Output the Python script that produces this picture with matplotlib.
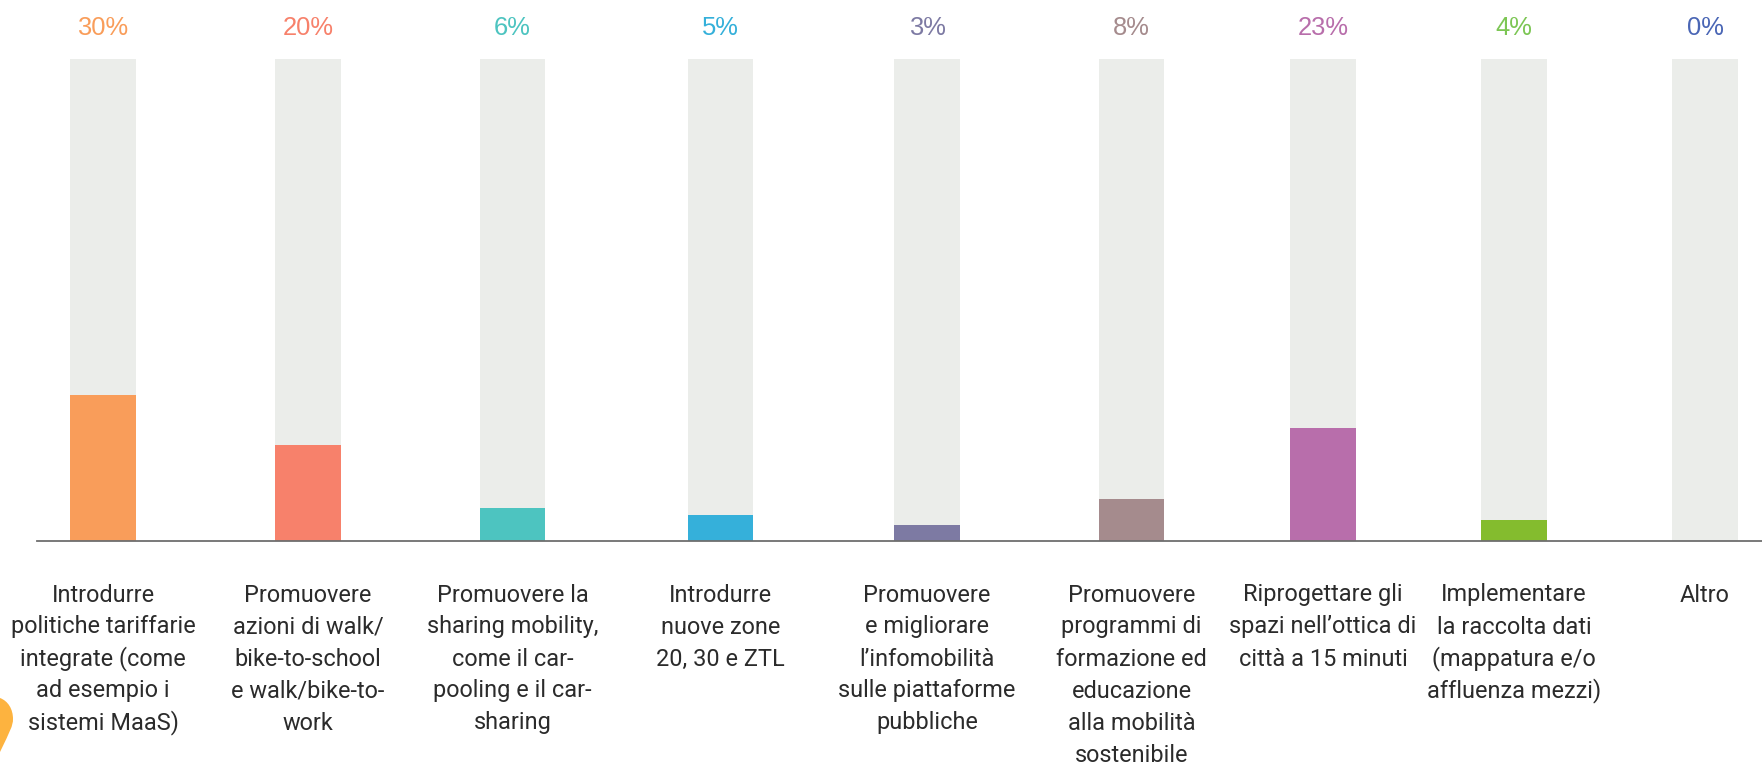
import matplotlib.pyplot as plt
from matplotlib.patches import PathPatch
from matplotlib.path import Path
from matplotlib.transforms import IdentityTransform

plt.rcParams["font.family"] = "Roboto"

labels = [
    "Introdurre\npolitiche tariffarie\nintegrate (come\nad esempio i\nsistemi MaaS)",
    "Promuovere\nazioni di walk/\nbike-to-school\ne walk/bike-to-\nwork",
    "Promuovere la\nsharing mobility,\ncome il car-\npooling e il car-\nsharing",
    "Introdurre\nnuove zone\n20, 30 e ZTL",
    "Promuovere\ne migliorare\nl’infomobilità\nsulle piattaforme\npubbliche",
    "Promuovere\nprogrammi di\nformazione ed\neducazione\nalla mobilità\nsostenibile",
    "Riprogettare gli\nspazi nell’ottica di\ncittà a 15 minuti",
    "Implementare\nla raccolta dati\n(mappatura e/o\naffluenza mezzi)",
    "Altro",
]
values = [30, 20, 6, 5, 3, 8, 23, 4, 0]
# drawn heights in the picture differ a little from the printed percentages
heights = [30.3, 19.9, 6.8, 5.2, 3.3, 8.6, 23.3, 4.2, 0]
centers = [103, 308, 512.5, 720.5, 927, 1131.5, 1323, 1514, 1705]
bar_colors = ["#F99D5A", "#F7816B", "#4DC4C0", "#35B0DA", "#7D7AA3", "#A58B8D", "#B86EAB", "#84BC2E", "#4A66B5"]
text_colors = ["#F99D5A", "#F7816B", "#4DC4C0", "#35B0DA", "#7D7AA3", "#A58B8D", "#B86EAB", "#7CC654", "#4A66B5"]

W, H = 1762, 763
fig = plt.figure(figsize=(W / 100, H / 100), dpi=100)
ax = fig.add_axes([37 / W, (H - 540.5) / H, (W - 37) / W, 481.5 / H])
ax.set_xlim(37, W)
ax.set_ylim(0, 100)

ax.bar(centers, [100] * len(values), width=65.5, color="#EBEDEA", zorder=1)
ax.bar(centers, heights, width=65.5, color=bar_colors, zorder=2)

for x, v, c in zip(centers, values, text_colors):
    ax.annotate(f"{v}%", (x, 100), xytext=(0, 24), textcoords="offset pixels",
                ha="center", va="baseline", fontsize=18.4, color=c, family="Liberation Sans")

# one text per line, matplotlib spaces lines with parentheses unevenly otherwise
for x, label in zip(centers, labels):
    for i, line in enumerate(label.split("\n")):
        ax.annotate(line, (x, 0), xytext=(0, -61 - 32 * i), textcoords="offset pixels",
                    ha="center", va="baseline", fontsize=16.9, color="#2B2B2B", annotation_clip=False)

ax.set_xticks([])
ax.set_yticks([])
for side in ["top", "left", "right"]:
    ax.spines[side].set_visible(False)
ax.spines["bottom"].set_color("#6E6E6E")
ax.spines["bottom"].set_linewidth(1.3)
ax.spines["bottom"].set_zorder(3)

# bit of the yellow pin cut off at the left edge
pin = Path(
    [(0, H - 698), (8, H - 701), (13, H - 709), (13, H - 719), (13, H - 726), (10, H - 731), (0, H - 752), (0, H - 698)],
    [Path.MOVETO, Path.CURVE4, Path.CURVE4, Path.CURVE4, Path.CURVE4, Path.CURVE4, Path.CURVE4, Path.CLOSEPOLY],
)
fig.add_artist(PathPatch(pin, facecolor="#FDB33F", edgecolor="none", transform=IdentityTransform()))

fig.savefig("out.png", dpi=100)
